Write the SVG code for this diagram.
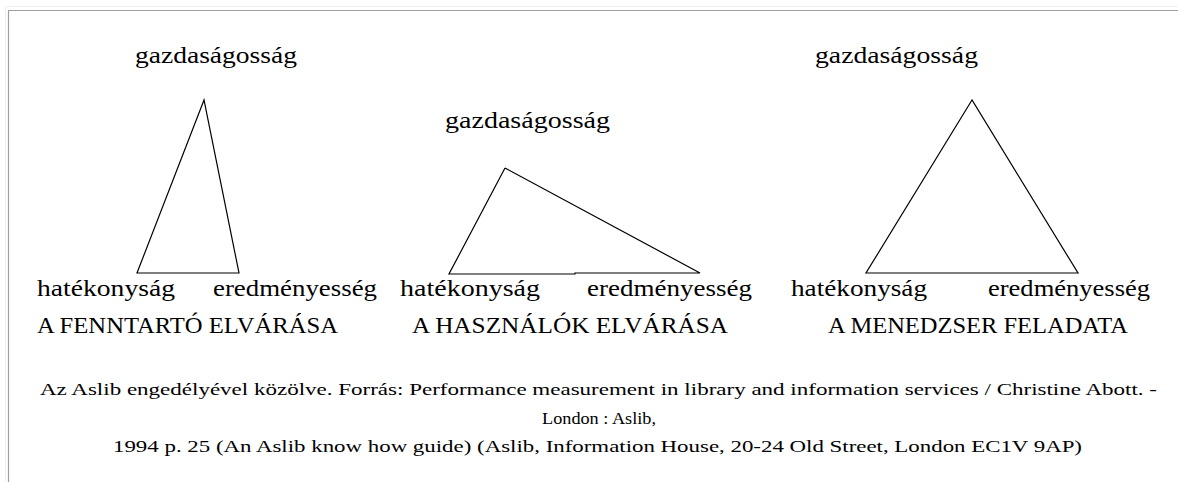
<svg xmlns="http://www.w3.org/2000/svg" width="1178" height="482" viewBox="0 0 1178 482">
<style>
.t{font-family:"Liberation Serif","Times New Roman",serif;font-size:23.5px;fill:#000}
.c{font-family:"Liberation Serif","Times New Roman",serif;font-size:17.5px;fill:#000}
.tri{fill:none;stroke:#000;stroke-width:1.2}
</style>
<rect width="1178" height="482" fill="#fff"/>
<g id="frame">
<path d="M5.5 482V6.5H1178" fill="none" stroke="#f0f0f0" stroke-width="1"/>
<path d="M8.5 482V10.5H1178" fill="none" stroke="#a0a0a0" stroke-width="1.2"/>
</g>
<g id="connectors">
<polygon class="tri" points="204,100 137,273 239,273"/>
<polyline class="tri" points="505,168 449,274 575,274 575,273 700,273 505,168"/>
<polygon class="tri" points="972,100 866,273 1078,273"/>
</g>
<g id="node-fenntarto">
<text class="t" x="135" y="63" textLength="162" lengthAdjust="spacingAndGlyphs">gazdaságosság</text>
<text class="t" x="37" y="296" textLength="138" lengthAdjust="spacingAndGlyphs">hatékonyság</text>
<text class="t" x="213" y="296" textLength="164" lengthAdjust="spacingAndGlyphs">eredményesség</text>
<text class="t" x="37" y="333" textLength="301" lengthAdjust="spacingAndGlyphs">A FENNTARTÓ ELVÁRÁSA</text>
</g>
<g id="node-hasznalok">
<text class="t" x="445" y="128" textLength="165" lengthAdjust="spacingAndGlyphs">gazdaságosság</text>
<text class="t" x="400" y="296" textLength="140" lengthAdjust="spacingAndGlyphs">hatékonyság</text>
<text class="t" x="587" y="296" textLength="165" lengthAdjust="spacingAndGlyphs">eredményesség</text>
<text class="t" x="412" y="333" textLength="316" lengthAdjust="spacingAndGlyphs">A HASZNÁLÓK ELVÁRÁSA</text>
</g>
<g id="node-menedzser">
<text class="t" x="815" y="63" textLength="163" lengthAdjust="spacingAndGlyphs">gazdaságosság</text>
<text class="t" x="791" y="296" textLength="136" lengthAdjust="spacingAndGlyphs">hatékonyság</text>
<text class="t" x="988" y="296" textLength="162" lengthAdjust="spacingAndGlyphs">eredményesség</text>
<text class="t" x="828" y="333" textLength="300" lengthAdjust="spacingAndGlyphs">A MENEDZSER FELADATA</text>
</g>
<g id="caption">
<text class="c" x="40" y="395" textLength="1117" lengthAdjust="spacingAndGlyphs">Az Aslib engedélyével közölve. Forrás: Performance measurement in library and information services / Christine Abott. -</text>
<text class="c" x="542" y="424" textLength="114" lengthAdjust="spacingAndGlyphs">London : Aslib,</text>
<text class="c" x="113" y="452" textLength="969" lengthAdjust="spacingAndGlyphs">1994 p. 25 (An Aslib know how guide) (Aslib, Information House, 20-24 Old Street, London EC1V 9AP)</text>
</g>
</svg>
